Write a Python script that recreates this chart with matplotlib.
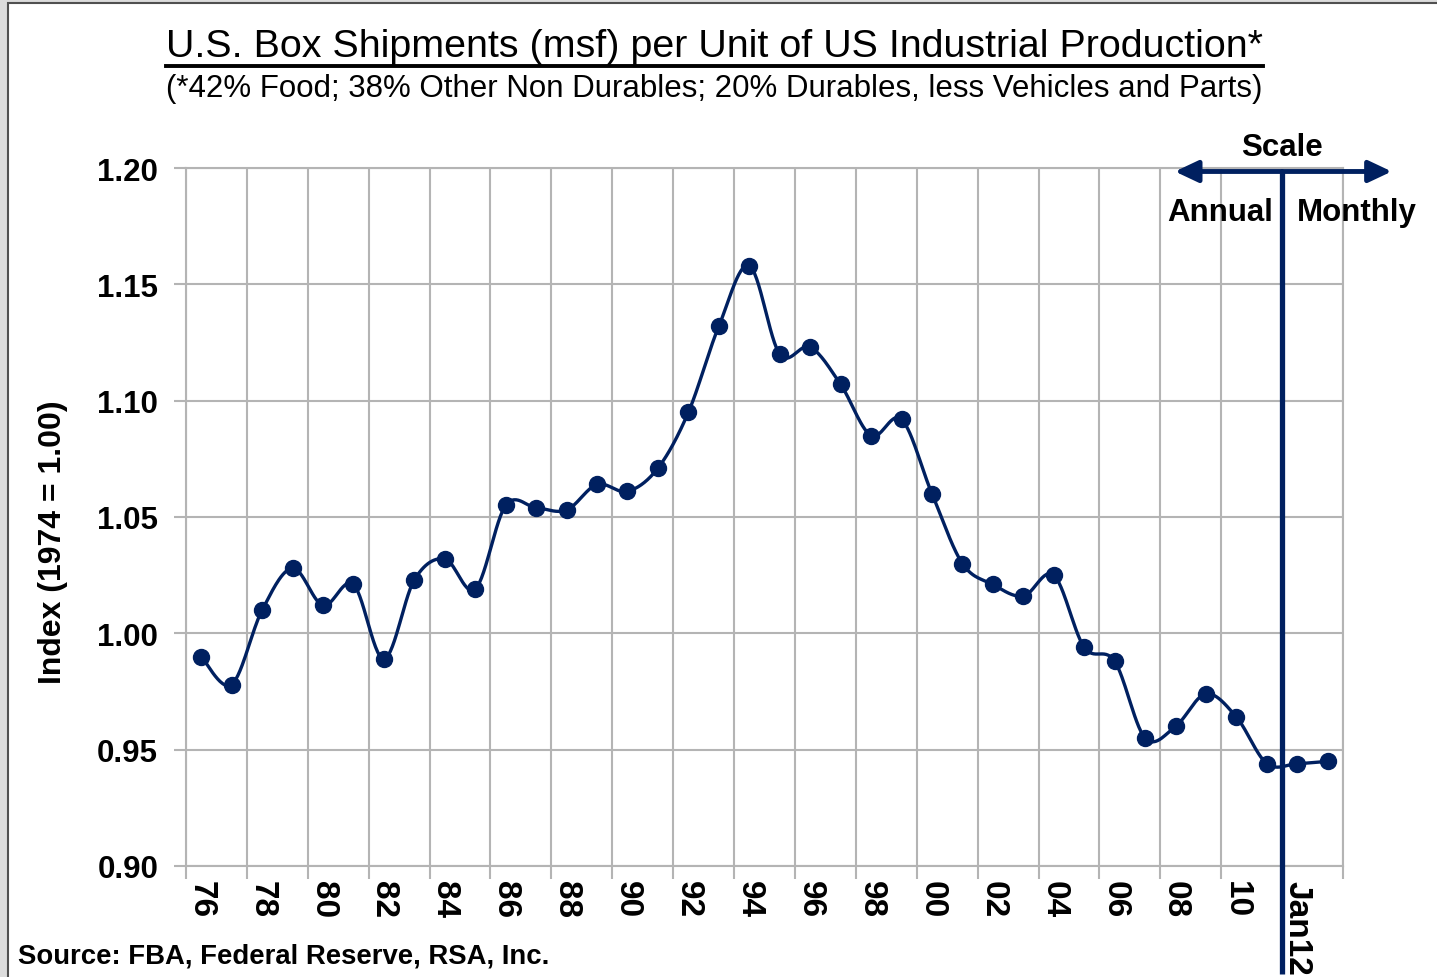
import numpy as np
import matplotlib
matplotlib.use("Agg")
import matplotlib.pyplot as plt
from matplotlib.lines import Line2D
from matplotlib.patches import Rectangle

# ---------------- data ----------------
categories = ['76', '77', '78', '79', '80', '81', '82', '83', '84', '85',
              '86', '87', '88', '89', '90', '91', '92', '93', '94', '95',
              '96', '97', '98', '99', '00', '01', '02', '03', '04', '05',
              '06', '07', '08', '09', '10', '11', 'Jan12', 'Feb12']
values = [0.990, 0.978, 1.010, 1.028, 1.012, 1.021, 0.989, 1.023, 1.032, 1.019,
          1.055, 1.054, 1.053, 1.064, 1.061, 1.071, 1.095, 1.132, 1.158, 1.120,
          1.123, 1.107, 1.085, 1.092, 1.060, 1.030, 1.021, 1.016, 1.025, 0.994,
          0.988, 0.955, 0.960, 0.974, 0.964, 0.944, 0.944, 0.945]
tick_labels = ['76', '78', '80', '82', '84', '86', '88', '90', '92', '94',
               '96', '98', '00', '02', '04', '06', '08', '10', 'Jan12']
y_ticks = [0.90, 0.95, 1.00, 1.05, 1.10, 1.15, 1.20]

title = "U.S. Box Shipments (msf) per Unit of US Industrial Production*"
subtitle = "(*42% Food; 38% Other Non Durables; 20% Durables, less Vehicles and Parts)"
ylabel = "Index (1974 = 1.00)"
source = "Source: FBA, Federal Reserve, RSA, Inc."

NAVY = '#002060'
GRID = '#b4b4b4'
NARROW = ['Liberation Sans Narrow', 'Liberation Sans', 'DejaVu Sans']
BOLD = ['Liberation Sans', 'DejaVu Sans']

W, H = 1437, 978
fig = plt.figure(figsize=(W / 100, H / 100), dpi=100, facecolor='#dcdcdc')
fig.add_artist(Rectangle((8 / W, -0.05), 1.2, 1 - 4 / H + 0.05, transform=fig.transFigure,
                         facecolor='white', edgecolor='#505050', lw=1.5, zorder=-10))

ax = fig.add_axes([186 / W, 1 - 867 / H, (1343 - 186) / W, (867 - 169) / H])
ax.set_facecolor('white')

n = len(categories)
x = np.arange(n)

# Smoothed line (Excel-style Catmull-Rom -> cubic Bezier through the points)
P = np.column_stack([x, values]).astype(float)
curve = []
for i in range(n - 1):
    p0 = P[max(i - 1, 0)]
    p1 = P[i]
    p2 = P[i + 1]
    p3 = P[min(i + 2, n - 1)]
    c1 = p1 + (p2 - p0) / 6.0
    c2 = p2 - (p3 - p1) / 6.0
    t = np.linspace(0, 1, 30)[:, None]
    seg = ((1 - t) ** 3) * p1 + 3 * ((1 - t) ** 2) * t * c1 + 3 * (1 - t) * t ** 2 * c2 + t ** 3 * p2
    curve.append(seg if i == 0 else seg[1:])
curve = np.vstack(curve)
ax.plot(curve[:, 0], curve[:, 1], color=NAVY, lw=2.4, zorder=3, solid_capstyle='round')
ax.plot(x, values, 'o', color=NAVY, ms=11.5, zorder=4)

ax.set_xlim(-0.5, n - 0.5)
ax.set_ylim(0.90, 1.20)

# gridlines at category boundaries every 2
bounds = np.arange(-0.5, n, 2)
ax.set_xticks(bounds)
ax.set_xticklabels([])
ax.set_xticks(x[::2], minor=True)
ax.set_xticklabels(tick_labels, minor=True, rotation=-90, fontsize=24, fontweight='bold',
                   family=BOLD, va='top')
ax.tick_params(axis='x', which='minor', length=0, pad=10)
ax.tick_params(axis='x', which='major', length=9, width=1.5, color=GRID)

ax.set_yticks(y_ticks)
ax.set_yticklabels([f"{v:.2f}" for v in y_ticks], fontsize=22.5, fontweight='bold', family=BOLD)
ax.tick_params(axis='y', length=9, width=1.5, color=GRID, pad=11)

ax.grid(True, which='major', color=GRID, lw=1.5)
ax.set_axisbelow(True)
for s in ax.spines.values():
    s.set_color(GRID)
    s.set_linewidth(1.5)

ax.set_ylabel(ylabel, fontsize=23, fontweight='bold', family=BOLD)
ax.yaxis.set_label_coords((68 - 186) / 1157, (867 - 542) / 698)

# Scale annotation
div = n - 2 - 0.5  # boundary between annual and monthly data
y_arrow = 1.1985
ax.plot([div, div], [0.8535, y_arrow], color=NAVY, lw=3.8, clip_on=False, zorder=5,
        solid_capstyle='butt')
for tip in (31.98, 39.1):
    ax.annotate('', xy=(tip, y_arrow), xytext=(div, y_arrow),
                arrowprops=dict(arrowstyle='-|>,head_length=0.7,head_width=0.33', color=NAVY,
                                lw=3.5, shrinkA=0, shrinkB=0, mutation_scale=20),
                annotation_clip=False, zorder=5)
ax.text(div, 1.209, 'Scale', ha='center', va='center', fontsize=22.5, fontweight='bold', family=BOLD)
ax.text(div - 0.3, 1.181, 'Annual', ha='right', va='center', fontsize=22.5, fontweight='bold', family=BOLD)
ax.text(div + 0.5, 1.181, 'Monthly', ha='left', va='center', fontsize=22.5, fontweight='bold', family=BOLD)

# Titles
t = fig.text(714 / W, 1 - 47 / H, title, ha='center', va='center', fontsize=28.4, family=NARROW)
fig.text(714 / W, 1 - 89 / H, subtitle, ha='center', va='center', fontsize=22.5, family=NARROW)
fig.text(18 / W, 1 - 957 / H, source, ha='left', va='center', fontsize=19.8, fontweight='bold', family=BOLD)

fig.canvas.draw()
bb = t.get_window_extent()
fig.add_artist(Line2D([bb.x0 / W, bb.x1 / W], [1 - 67 / H, 1 - 67 / H],
                      transform=fig.transFigure, color='black', lw=2.8))

fig.savefig('out.png', dpi=100, facecolor=fig.get_facecolor())
